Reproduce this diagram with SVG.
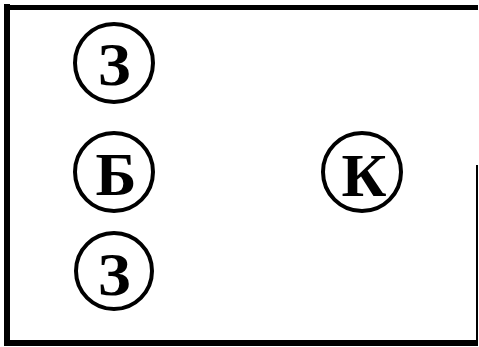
<svg xmlns="http://www.w3.org/2000/svg" width="479" height="347" viewBox="0 0 479 347">
<style>
.c{fill:#fff;stroke:#000;stroke-width:4}
.t{font-family:"Liberation Serif","Times New Roman",serif;font-weight:bold;font-size:62px;text-anchor:middle;fill:#000}
.b{fill:none;stroke:#000}
</style>
<rect width="479" height="347" fill="#fff"/>
<g id="frame">
<path class="b" stroke-width="6" d="M7 4 V343 H478"/>
<path class="b" stroke-width="5" d="M4 7.5 H478"/>
<path class="b" stroke-width="2" d="M477 165 V343"/>
</g>
<g id="z1"><circle class="c" cx="114" cy="63" r="39"/><text class="t" x="114" y="85">З</text></g>
<g id="b"><circle class="c" cx="114" cy="172" r="39"/><text class="t" x="116" y="195">Б</text></g>
<g id="z2"><circle class="c" cx="114" cy="271" r="38"/><text class="t" x="114" y="295">З</text></g>
<g id="k"><circle class="c" cx="362" cy="172" r="39"/><text class="t" x="364" y="196">К</text></g>
<g id="connectors"></g>
</svg>
